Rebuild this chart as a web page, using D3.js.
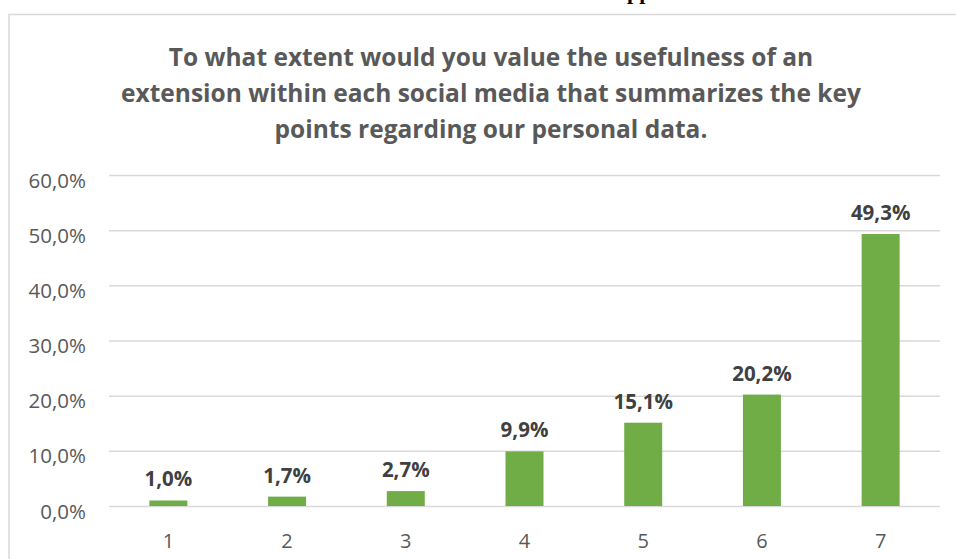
<!DOCTYPE html>
<html>
<head>
<meta charset="utf-8">
<script src="https://cdn.jsdelivr.net/npm/d3@7"></script>
<style>
  html, body { margin: 0; padding: 0; background: #fff; }
  svg { display: block; }
</style>
</head>
<body>
<svg id="chart" width="956" height="559"></svg>
<script>
// Rating scale (1 = not useful, 7 = very useful) and share of respondents
const categories = ["1", "2", "3", "4", "5", "6", "7"];
const shares = [1.0, 1.7, 2.7, 9.9, 15.1, 20.2, 49.3];
const yTicks = [0, 10, 20, 30, 40, 50, 60];
const titleLines = [
  "To what extent would you value the usefulness of an",
  "extension within each social media that summarizes the key",
  "points regarding our personal data."
];

const fontFamily = "'Open Sans', Lato, 'DejaVu Sans', sans-serif";
const fmt = v => v.toFixed(1).replace(".", ",") + "%";

const svg = d3.select("#chart");

// Fragment of the surrounding document text, cut off by the top edge
svg.append("text")
  .attr("x", 627).attr("y", -1)
  .attr("font-family", "'Liberation Serif', serif")
  .attr("font-weight", "bold")
  .attr("font-size", 22)
  .attr("fill", "#000")
  .text("pp");

// Chart frame
svg.append("rect")
  .attr("x", 9).attr("y", 14.5)
  .attr("width", 1000).attr("height", 600)
  .attr("fill", "#fff")
  .attr("stroke", "#d9d9d9")
  .attr("stroke-width", 1.5);

// Title
svg.append("g")
  .selectAll("text")
  .data(titleLines)
  .join("text")
  .attr("x", 491)
  .attr("y", (d, i) => 66 + i * 36)
  .attr("text-anchor", "middle")
  .attr("font-family", fontFamily)
  .attr("font-weight", "bold")
  .attr("font-size", 24.5)
  .attr("fill", "#595959")
  .text(d => d);

const x = d3.scaleBand()
  .domain(categories)
  .range([109, 940])
  .paddingInner(0.68)
  .paddingOuter(0.34);

const y = d3.scaleLinear()
  .domain([0, 60])
  .range([506, 175]);

// Horizontal gridlines and y tick labels
const yAxis = d3.axisLeft(y)
  .tickValues(yTicks)
  .tickSize(-(940 - 109))
  .tickPadding(23)
  .tickFormat(fmt);

const gy = svg.append("g")
  .attr("transform", "translate(109,0)")
  .call(yAxis);
gy.select(".domain").remove();
gy.selectAll(".tick line")
  .attr("stroke", "#d9d9d9")
  .attr("stroke-width", 1.5);
gy.selectAll(".tick text")
  .attr("font-family", fontFamily)
  .attr("font-size", 20.5)
  .attr("fill", "#595959")
  .attr("dy", 12);

// Category labels along the bottom
const xAxis = d3.axisBottom(x).tickSize(0).tickPadding(0);
const gx = svg.append("g")
  .attr("transform", "translate(0,506)")
  .call(xAxis);
gx.select(".domain").remove();
gx.selectAll(".tick text")
  .attr("font-family", fontFamily)
  .attr("font-size", 20)
  .attr("fill", "#595959")
  .attr("y", 42)
  .attr("dy", 0);

const data = categories.map((c, i) => ({ cat: c, value: shares[i] }));

// Bars
svg.append("g")
  .selectAll("rect")
  .data(data)
  .join("rect")
  .attr("x", d => x(d.cat))
  .attr("y", d => y(d.value))
  .attr("width", x.bandwidth())
  .attr("height", d => y(0) - y(d.value))
  .attr("fill", "#70ad47");

// Value labels above each bar
svg.append("g")
  .selectAll("text")
  .data(data)
  .join("text")
  .attr("x", d => x(d.cat) + x.bandwidth() / 2)
  .attr("y", d => y(d.value) - 14)
  .attr("text-anchor", "middle")
  .attr("font-family", fontFamily)
  .attr("font-weight", "bold")
  .attr("font-size", 20.5)
  .attr("fill", "#404040")
  .text(d => fmt(d.value));
</script>
</body>
</html>
